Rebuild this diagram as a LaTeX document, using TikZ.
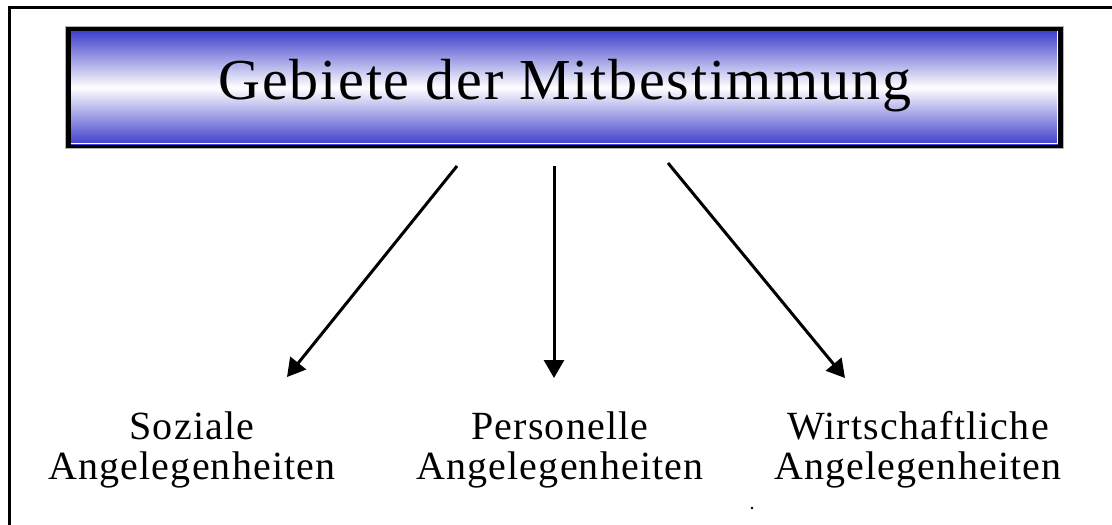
\documentclass[tikz,border=0pt]{standalone}
\usepackage{fontspec}
\setmainfont{Liberation Serif}
\newfontfamily\titelfont[LetterSpace=3]{Liberation Serif}
\newfontfamily\gebietfont[LetterSpace=3]{Liberation Serif}
\usetikzlibrary{arrows.meta}
\definecolor{balkenblau}{RGB}{64,64,204}
\tikzset{
  pfeil/.style={line width=3pt,-{Triangle[length=18pt,width=20pt]}},
  gebiet/.style={align=center,font=\gebietfont\fontsize{40}{40}\selectfont},
}

\begin{document}
\begin{tikzpicture}[x=1pt,y=1pt,yscale=-1]
\useasboundingbox (0,0) rectangle (1112,525);
%Frame
\draw[line width=3pt] (1112,7) -- (9,7) -- (9,525);
%Shape: Title box
\fill[gray!60] (65,26) rectangle (1064,149);
\fill[black] (66,27) rectangle (1063,148);
\shade[top color=balkenblau,bottom color=balkenblau,middle color=white] (71,31) rectangle (1058,144);
\draw[white,line width=1pt] (71,143.5) -- (1057.5,143.5) -- (1057.5,31);
% Text Node
\draw (565,86) node (titel) {\titelfont\fontsize{58}{60}\selectfont Gebiete der Mitbestimmung};

% Text Nodes
\draw (192,450) node[gebiet] (soz) {Soziale\\Angelegenheiten};
\draw (560,450) node[gebiet] (pers) {Personelle\\Angelegenheiten};
\draw (918,450) node[gebiet] (wirt) {Wirtschaftliche\\Angelegenheiten};

%Arrows
\coordinate (s1) at (457,166);
\coordinate (e1) at (287,377);
\coordinate (s2) at (554,166);
\coordinate (e2) at (554,378);
\coordinate (s3) at (668,163);
\coordinate (e3) at (845,378);
\draw[pfeil] (s1) -- (e1);
\draw[pfeil] (s2) -- (e2);
\draw[pfeil] (s3) -- (e3);

\fill (752,508) circle (1.3);
\end{tikzpicture}
\end{document}
